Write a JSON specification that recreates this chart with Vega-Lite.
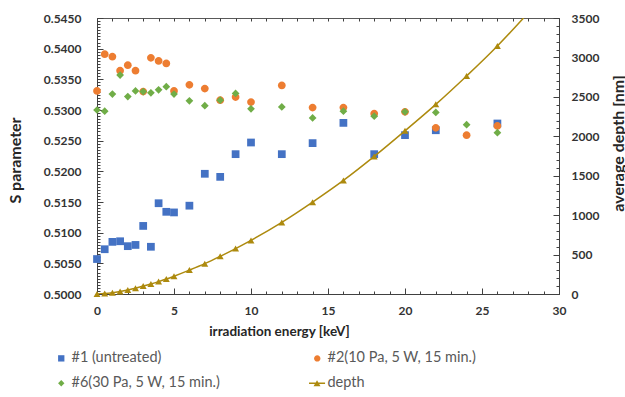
{
  "$schema": "https://vega.github.io/schema/vega-lite/v6.json",
  "width": 462,
  "height": 276,
  "autosize": {"type": "none"},
  "padding": {"left": 97, "top": 18, "right": 66, "bottom": 103},
  "background": "white",
  "config": {
    "font": "Lato",
    "view": {"stroke": "#595959", "strokeWidth": 1},
    "axis": {
      "domainColor": "#404040",
      "tickColor": "#404040",
      "labelColor": "#333333",
      "labelFont": "Lato",
      "labelFontWeight": "bold",
      "labelFontSize": 12,
      "titleFont": "Lato",
      "titleFontWeight": "bold",
      "titleFontSize": 14,
      "titleColor": "#262626",
      "grid": false,
      "labelOverlap": false,
      "labelFlush": false
    },
    "legend": {
      "labelFont": "Lato",
      "labelFontSize": 14.5,
      "labelColor": "#595959",
      "labelLimit": 400
    }
  },
  "datasets": {
    "sparam": [
      {"energy": 0, "S": 0.5057, "series": "#1 (untreated)"},
      {"energy": 0.5, "S": 0.5073, "series": "#1 (untreated)"},
      {"energy": 1, "S": 0.5085, "series": "#1 (untreated)"},
      {"energy": 1.5, "S": 0.5086, "series": "#1 (untreated)"},
      {"energy": 2, "S": 0.5078, "series": "#1 (untreated)"},
      {"energy": 2.5, "S": 0.5080, "series": "#1 (untreated)"},
      {"energy": 3, "S": 0.5111, "series": "#1 (untreated)"},
      {"energy": 3.5, "S": 0.5077, "series": "#1 (untreated)"},
      {"energy": 4, "S": 0.5148, "series": "#1 (untreated)"},
      {"energy": 4.5, "S": 0.5134, "series": "#1 (untreated)"},
      {"energy": 5, "S": 0.5133, "series": "#1 (untreated)"},
      {"energy": 6, "S": 0.5144, "series": "#1 (untreated)"},
      {"energy": 7, "S": 0.5196, "series": "#1 (untreated)"},
      {"energy": 8, "S": 0.5191, "series": "#1 (untreated)"},
      {"energy": 9, "S": 0.5228, "series": "#1 (untreated)"},
      {"energy": 10, "S": 0.5247, "series": "#1 (untreated)"},
      {"energy": 12, "S": 0.5228, "series": "#1 (untreated)"},
      {"energy": 14, "S": 0.5246, "series": "#1 (untreated)"},
      {"energy": 16, "S": 0.5279, "series": "#1 (untreated)"},
      {"energy": 18, "S": 0.5228, "series": "#1 (untreated)"},
      {"energy": 20, "S": 0.5259, "series": "#1 (untreated)"},
      {"energy": 22, "S": 0.5267, "series": "#1 (untreated)"},
      {"energy": 26, "S": 0.5278, "series": "#1 (untreated)"},

      {"energy": 0, "S": 0.5331, "series": "#2(10 Pa, 5 W, 15 min.)"},
      {"energy": 0.5, "S": 0.5391, "series": "#2(10 Pa, 5 W, 15 min.)"},
      {"energy": 1, "S": 0.5387, "series": "#2(10 Pa, 5 W, 15 min.)"},
      {"energy": 1.5, "S": 0.5364, "series": "#2(10 Pa, 5 W, 15 min.)"},
      {"energy": 2, "S": 0.5373, "series": "#2(10 Pa, 5 W, 15 min.)"},
      {"energy": 2.5, "S": 0.5364, "series": "#2(10 Pa, 5 W, 15 min.)"},
      {"energy": 3, "S": 0.5330, "series": "#2(10 Pa, 5 W, 15 min.)"},
      {"energy": 3.5, "S": 0.5385, "series": "#2(10 Pa, 5 W, 15 min.)"},
      {"energy": 4, "S": 0.5380, "series": "#2(10 Pa, 5 W, 15 min.)"},
      {"energy": 4.5, "S": 0.5376, "series": "#2(10 Pa, 5 W, 15 min.)"},
      {"energy": 5, "S": 0.5331, "series": "#2(10 Pa, 5 W, 15 min.)"},
      {"energy": 6, "S": 0.5341, "series": "#2(10 Pa, 5 W, 15 min.)"},
      {"energy": 7, "S": 0.5335, "series": "#2(10 Pa, 5 W, 15 min.)"},
      {"energy": 8, "S": 0.5316, "series": "#2(10 Pa, 5 W, 15 min.)"},
      {"energy": 9, "S": 0.5321, "series": "#2(10 Pa, 5 W, 15 min.)"},
      {"energy": 10, "S": 0.5313, "series": "#2(10 Pa, 5 W, 15 min.)"},
      {"energy": 12, "S": 0.5340, "series": "#2(10 Pa, 5 W, 15 min.)"},
      {"energy": 14, "S": 0.5304, "series": "#2(10 Pa, 5 W, 15 min.)"},
      {"energy": 16, "S": 0.5304, "series": "#2(10 Pa, 5 W, 15 min.)"},
      {"energy": 18, "S": 0.5294, "series": "#2(10 Pa, 5 W, 15 min.)"},
      {"energy": 20, "S": 0.5297, "series": "#2(10 Pa, 5 W, 15 min.)"},
      {"energy": 22, "S": 0.5271, "series": "#2(10 Pa, 5 W, 15 min.)"},
      {"energy": 24, "S": 0.5259, "series": "#2(10 Pa, 5 W, 15 min.)"},
      {"energy": 26, "S": 0.5274, "series": "#2(10 Pa, 5 W, 15 min.)"},

      {"energy": 0, "S": 0.5300, "series": "#6(30 Pa, 5 W, 15 min.)"},
      {"energy": 0.5, "S": 0.5298, "series": "#6(30 Pa, 5 W, 15 min.)"},
      {"energy": 1, "S": 0.5326, "series": "#6(30 Pa, 5 W, 15 min.)"},
      {"energy": 1.5, "S": 0.5357, "series": "#6(30 Pa, 5 W, 15 min.)"},
      {"energy": 2, "S": 0.5322, "series": "#6(30 Pa, 5 W, 15 min.)"},
      {"energy": 2.5, "S": 0.5331, "series": "#6(30 Pa, 5 W, 15 min.)"},
      {"energy": 3, "S": 0.5330, "series": "#6(30 Pa, 5 W, 15 min.)"},
      {"energy": 3.5, "S": 0.5328, "series": "#6(30 Pa, 5 W, 15 min.)"},
      {"energy": 4, "S": 0.5333, "series": "#6(30 Pa, 5 W, 15 min.)"},
      {"energy": 4.5, "S": 0.5338, "series": "#6(30 Pa, 5 W, 15 min.)"},
      {"energy": 5, "S": 0.5326, "series": "#6(30 Pa, 5 W, 15 min.)"},
      {"energy": 6, "S": 0.5315, "series": "#6(30 Pa, 5 W, 15 min.)"},
      {"energy": 7, "S": 0.5307, "series": "#6(30 Pa, 5 W, 15 min.)"},
      {"energy": 8, "S": 0.5316, "series": "#6(30 Pa, 5 W, 15 min.)"},
      {"energy": 9, "S": 0.5327, "series": "#6(30 Pa, 5 W, 15 min.)"},
      {"energy": 10, "S": 0.5302, "series": "#6(30 Pa, 5 W, 15 min.)"},
      {"energy": 12, "S": 0.5305, "series": "#6(30 Pa, 5 W, 15 min.)"},
      {"energy": 14, "S": 0.5287, "series": "#6(30 Pa, 5 W, 15 min.)"},
      {"energy": 16, "S": 0.5298, "series": "#6(30 Pa, 5 W, 15 min.)"},
      {"energy": 18, "S": 0.5290, "series": "#6(30 Pa, 5 W, 15 min.)"},
      {"energy": 20, "S": 0.5297, "series": "#6(30 Pa, 5 W, 15 min.)"},
      {"energy": 22, "S": 0.5296, "series": "#6(30 Pa, 5 W, 15 min.)"},
      {"energy": 24, "S": 0.5276, "series": "#6(30 Pa, 5 W, 15 min.)"},
      {"energy": 26, "S": 0.5263, "series": "#6(30 Pa, 5 W, 15 min.)"}
    ],
    "depth": [
      {"energy": 0, "depth": 0, "series": "depth", "measured": true},
      {"energy": 0.5, "depth": 6, "series": "depth", "measured": true},
      {"energy": 1, "depth": 17, "series": "depth", "measured": true},
      {"energy": 1.5, "depth": 33, "series": "depth", "measured": true},
      {"energy": 2, "depth": 52, "series": "depth", "measured": true},
      {"energy": 2.5, "depth": 74, "series": "depth", "measured": true},
      {"energy": 3, "depth": 100, "series": "depth", "measured": true},
      {"energy": 3.5, "depth": 127, "series": "depth", "measured": true},
      {"energy": 4, "depth": 157, "series": "depth", "measured": true},
      {"energy": 4.5, "depth": 190, "series": "depth", "measured": true},
      {"energy": 5, "depth": 226, "series": "depth", "measured": true},
      {"energy": 6, "depth": 303, "series": "depth", "measured": true},
      {"energy": 7, "depth": 385, "series": "depth", "measured": true},
      {"energy": 8, "depth": 478, "series": "depth", "measured": true},
      {"energy": 9, "depth": 576, "series": "depth", "measured": true},
      {"energy": 10, "depth": 680, "series": "depth", "measured": true},
      {"energy": 12, "depth": 908, "series": "depth", "measured": true},
      {"energy": 14, "depth": 1165, "series": "depth", "measured": true},
      {"energy": 16, "depth": 1440, "series": "depth", "measured": true},
      {"energy": 18, "depth": 1745, "series": "depth", "measured": true},
      {"energy": 20, "depth": 2070, "series": "depth", "measured": true},
      {"energy": 22, "depth": 2405, "series": "depth", "measured": true},
      {"energy": 24, "depth": 2765, "series": "depth", "measured": true},
      {"energy": 26, "depth": 3145, "series": "depth", "measured": true},
      {"energy": 27.7, "depth": 3500, "series": "depth", "measured": false}
    ]
  },
  "layer": [
    {
      "data": {"name": "sparam"},
      "mark": {"type": "point", "filled": true, "opacity": 1, "size": 60},
      "encoding": {
        "x": {
          "field": "energy",
          "type": "quantitative",
          "scale": {"domain": [0, 30], "nice": false},
          "axis": {
            "orient": "bottom",
            "title": "irradiation energy [keV]",
            "titleFontSize": 13.5,
            "titleX": 182,
            "tickCount": 30,
            "labelExpr": "datum.value % 5 === 0 ? datum.label : ''",
            "tickSize": {"condition": {"test": "datum.value % 5 === 0", "value": -6}, "value": -3},
            "labelPadding": 17,
            "titlePadding": 5
          }
        },
        "y": {
          "field": "S",
          "type": "quantitative",
          "scale": {"domain": [0.5, 0.545], "nice": false, "zero": false},
          "axis": {
            "orient": "left",
            "title": "S parameter",
            "titleFontSize": 16,
            "titleX": -82,
            "titleY": 142,
            "titleBaseline": "middle",
            "tickCount": 90,
            "format": ".4f",
            "labelExpr": "round(datum.value * 10000) % 50 === 0 ? datum.label : ''",
            "tickSize": {"condition": {"test": "round(datum.value * 10000) % 50 === 0", "value": -6}, "value": -3},
            "labelPadding": 22
          }
        },
        "color": {
          "field": "series",
          "type": "nominal",
          "scale": {
            "domain": ["#1 (untreated)", "#6(30 Pa, 5 W, 15 min.)", "#2(10 Pa, 5 W, 15 min.)", "depth"],
            "range": ["#4472C4", "#70AD47", "#ED7D31", "#AD8A0E"]
          },
          "legend": {
            "title": null,
            "orient": "none",
            "legendX": -43,
            "legendY": 333,
            "columns": 2,
            "columnPadding": 84,
            "rowPadding": 10,
            "symbolSize": 40,
            "labelOffset": 3
          }
        },
        "shape": {
          "field": "series",
          "type": "nominal",
          "scale": {
            "domain": ["#1 (untreated)", "#6(30 Pa, 5 W, 15 min.)", "#2(10 Pa, 5 W, 15 min.)", "depth"],
            "range": [
              "M-3.8,0M-1,-1H1V1H-1Z",
              "M-3.8,0M-1,0L0,-1L1,0L0,1Z",
              "M-3.8,0M-1,0A1,1,0,1,1,1,0A1,1,0,1,1,-1,0Z",
              "M-3.8,0M-2.6,-0.22H2.47V0.22H-2.6Z M-1.17,0.95L-0.07,-0.95L1.03,0.95Z"
            ]
          },
          "legend": {
            "title": null,
            "orient": "none",
            "legendX": -43,
            "legendY": 333,
            "columns": 2,
            "columnPadding": 84,
            "rowPadding": 10,
            "symbolSize": 40,
            "labelOffset": 3
          }
        }
      }
    },
    {
      "data": {"name": "depth"},
      "encoding": {
        "x": {
          "field": "energy",
          "type": "quantitative",
          "axis": {
            "orient": "top",
            "title": null,
            "tickCount": 30,
            "labels": false,
            "domain": false,
            "tickSize": -3
          }
        },
        "y": {
          "field": "depth",
          "type": "quantitative",
          "scale": {"domain": [0, 3500], "nice": false},
          "axis": {
            "orient": "right",
            "title": "average depth [nm]",
            "titleFontSize": 16,
            "titleAngle": -90,
            "titleX": 59,
            "titleY": 125,
            "titleBaseline": "middle",
            "tickCount": 35,
            "format": "d",
            "labelExpr": "datum.value % 500 === 0 ? datum.label : ''",
            "tickSize": {"condition": {"test": "datum.value % 500 === 0", "value": -6}, "value": -3},
            "labelPadding": 18
          }
        }
      },
      "layer": [
        {
          "mark": {"type": "line", "color": "#AD8A0E", "strokeWidth": 1.5, "interpolate": "monotone", "clip": true}
        },
        {
          "transform": [{"filter": "datum.measured"}],
          "mark": {"type": "point", "filled": true, "opacity": 1, "shape": "triangle-up", "size": 48},
          "encoding": {
            "color": {"field": "series", "type": "nominal"}
          }
        }
      ]
    }
  ],
  "resolve": {"scale": {"y": "independent"}, "axis": {"x": "independent", "y": "independent"}}
}
